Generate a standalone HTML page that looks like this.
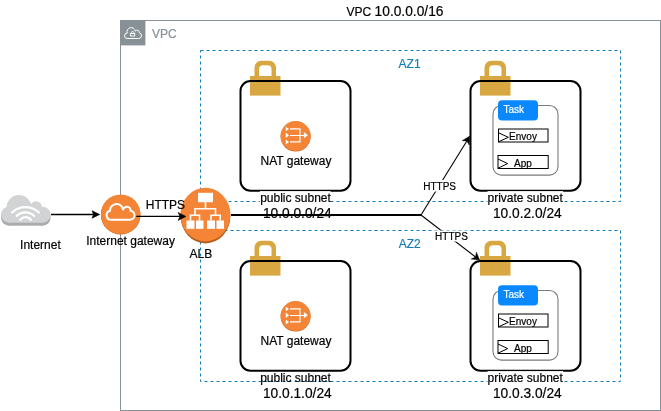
<!DOCTYPE html>
<html><head><meta charset="utf-8">
<style>
html,body{margin:0;padding:0;background:#fff;}
body{width:661px;height:411px;overflow:hidden;}
svg{display:block;will-change:transform;}
text{font-family:"Liberation Sans",sans-serif;}
</style></head>
<body>
<svg width="661" height="411" viewBox="0 0 661 411">

<rect x="120.5" y="20.5" width="540" height="390" fill="none" stroke="#879196" stroke-width="1"/>
<rect x="120" y="20" width="25.4" height="25.4" fill="#879196"/>
<path d="M127.20 38.50 A2.70 2.70 0 1 1 127.21 33.10 A4.20 4.20 0 1 1 135.36 31.20 A2.20 2.20 0 0 1 139.36 32.80 A2.90 2.90 0 0 1 138.60 38.50 Z" fill="none" stroke="#fff" stroke-width="1"/>
<rect x="130.6" y="33.5" width="4.1" height="2.5" fill="none" stroke="#fff" stroke-width="0.9"/>
<path d="M131.5 33.5 V32.6 A1.15 1.15 0 0 1 133.8 32.6 V33.5" fill="none" stroke="#fff" stroke-width="0.9"/>
<text x="152" y="37.8" font-size="12" fill="#879196" stroke="#879196" stroke-width="0.2">VPC</text>
<text x="346.6" y="15.7" fill="#000" stroke="#000" stroke-width="0.2"><tspan font-size="12">VPC </tspan><tspan font-size="13.75">10.0.0.0/16</tspan></text>
<rect x="200.5" y="50.5" width="420" height="151" fill="none" stroke="#147EBA" stroke-width="1" stroke-dasharray="3 3"/>
<text x="409.6" y="67.7" font-size="12" fill="#147EBA" stroke="#147EBA" stroke-width="0.2" text-anchor="middle">AZ1</text>
<rect x="200.5" y="230.5" width="420" height="151" fill="none" stroke="#147EBA" stroke-width="1" stroke-dasharray="3 3"/>
<text x="409.8" y="247.8" font-size="12" fill="#147EBA" stroke="#147EBA" stroke-width="0.2" text-anchor="middle">AZ2</text>
<path transform="translate(250 60)" d="M4.5 16 V7.5 A6.7 6.7 0 0 1 11.2 0.8 H19.3 A6.7 6.7 0 0 1 26 7.5 V16 H21.5 V9.3 A4 4 0 0 0 17.5 5.3 H13.1 A4 4 0 0 0 9.1 9.3 V16 Z" fill="#D9A741"/><rect x="250" y="76" width="30.5" height="19.6" fill="#D9A741"/>
<path transform="translate(480 60)" d="M4.5 16 V7.5 A6.7 6.7 0 0 1 11.2 0.8 H19.3 A6.7 6.7 0 0 1 26 7.5 V16 H21.5 V9.3 A4 4 0 0 0 17.5 5.3 H13.1 A4 4 0 0 0 9.1 9.3 V16 Z" fill="#D9A741"/><rect x="480" y="76" width="30.5" height="19.6" fill="#D9A741"/>
<path transform="translate(250 240)" d="M4.5 16 V7.5 A6.7 6.7 0 0 1 11.2 0.8 H19.3 A6.7 6.7 0 0 1 26 7.5 V16 H21.5 V9.3 A4 4 0 0 0 17.5 5.3 H13.1 A4 4 0 0 0 9.1 9.3 V16 Z" fill="#D9A741"/><rect x="250" y="256" width="30.5" height="19.6" fill="#D9A741"/>
<path transform="translate(480 240)" d="M4.5 16 V7.5 A6.7 6.7 0 0 1 11.2 0.8 H19.3 A6.7 6.7 0 0 1 26 7.5 V16 H21.5 V9.3 A4 4 0 0 0 17.5 5.3 H13.1 A4 4 0 0 0 9.1 9.3 V16 Z" fill="#D9A741"/><rect x="480" y="256" width="30.5" height="19.6" fill="#D9A741"/>
<rect x="240.5" y="81" width="110" height="109.7" rx="10" ry="10" fill="none" stroke="#000" stroke-width="2"/>
<rect x="470.5" y="81" width="110" height="109.7" rx="10" ry="10" fill="none" stroke="#000" stroke-width="2"/>
<rect x="240.5" y="261" width="110" height="109.7" rx="10" ry="10" fill="none" stroke="#000" stroke-width="2"/>
<rect x="470.5" y="261" width="110" height="109.7" rx="10" ry="10" fill="none" stroke="#000" stroke-width="2"/>
<g transform="translate(0 0)">
<circle cx="295.6" cy="136.6" r="15" fill="#C8682A"/>
<circle cx="295.6" cy="136" r="15" fill="#F58536"/>
<path d="M285.8 126.8 L289 129 L285.8 131.3 Z M285.8 132.6 L289 135.3 L285.8 138 Z M285.8 139.6 L289 142 L285.8 144.4 Z" fill="#fff"/>
<path d="M290 128.8 H300 V141.9 H290 M290 135.5 H304.5" fill="none" stroke="#fff" stroke-width="1.2"/>
<path d="M303.9 132.1 L307.9 135.3 L303.9 138.3 Z" fill="#fff"/>
</g>
<text x="296" y="165" font-size="12" fill="#000" stroke="#000" stroke-width="0.2" text-anchor="middle">NAT gateway</text>
<g transform="translate(0 180)">
<circle cx="295.6" cy="136.6" r="15" fill="#C8682A"/>
<circle cx="295.6" cy="136" r="15" fill="#F58536"/>
<path d="M285.8 126.8 L289 129 L285.8 131.3 Z M285.8 132.6 L289 135.3 L285.8 138 Z M285.8 139.6 L289 142 L285.8 144.4 Z" fill="#fff"/>
<path d="M290 128.8 H300 V141.9 H290 M290 135.5 H304.5" fill="none" stroke="#fff" stroke-width="1.2"/>
<path d="M303.9 132.1 L307.9 135.3 L303.9 138.3 Z" fill="#fff"/>
</g>
<text x="296" y="345" font-size="12" fill="#000" stroke="#000" stroke-width="0.2" text-anchor="middle">NAT gateway</text>
<g transform="translate(0 0)">
<rect x="493" y="105.5" width="65" height="69.6" rx="8.5" ry="8.5" fill="none" stroke="#7a7a7a" stroke-width="1.1"/>
<rect x="498" y="100.2" width="40" height="20.3" rx="4" ry="4" fill="#0A89FF"/>
<text x="513.8" y="113.1" font-size="10" fill="#fff" stroke="#fff" stroke-width="0.2" text-anchor="middle">Task</text>
<rect x="498.5" y="129" width="49.5" height="13" fill="#fff" stroke="#000" stroke-width="1"/>
<path d="M498.5 132.8 L508.4 137.3 L498.5 141.8" fill="none" stroke="#000" stroke-width="1"/>
<text x="523" y="140" font-size="10" fill="#000" stroke="#000" stroke-width="0.2" text-anchor="middle">Envoy</text>
<rect x="498" y="155.5" width="50.2" height="13" fill="#fff" stroke="#000" stroke-width="1"/>
<path d="M498 159 L507.7 163.6 L498 168.2" fill="none" stroke="#000" stroke-width="1"/>
<text x="523" y="167" font-size="10" fill="#000" stroke="#000" stroke-width="0.2" text-anchor="middle">App</text>
</g>
<g transform="translate(0 185)">
<rect x="493" y="105.5" width="65" height="69.6" rx="8.5" ry="8.5" fill="none" stroke="#7a7a7a" stroke-width="1.1"/>
<rect x="498" y="100.2" width="40" height="20.3" rx="4" ry="4" fill="#0A89FF"/>
<text x="513.8" y="113.1" font-size="10" fill="#fff" stroke="#fff" stroke-width="0.2" text-anchor="middle">Task</text>
<rect x="498.5" y="129" width="49.5" height="13" fill="#fff" stroke="#000" stroke-width="1"/>
<path d="M498.5 132.8 L508.4 137.3 L498.5 141.8" fill="none" stroke="#000" stroke-width="1"/>
<text x="523" y="140" font-size="10" fill="#000" stroke="#000" stroke-width="0.2" text-anchor="middle">Envoy</text>
<rect x="498" y="155.5" width="50.2" height="13" fill="#fff" stroke="#000" stroke-width="1"/>
<path d="M498 159 L507.7 163.6 L498 168.2" fill="none" stroke="#000" stroke-width="1"/>
<text x="523" y="167" font-size="10" fill="#000" stroke="#000" stroke-width="0.2" text-anchor="middle">App</text>
</g>
<rect x="259.8" y="191.1" width="70.8" height="12" fill="#fff"/>
<text x="295.5" y="201.9" font-size="12" fill="#000" stroke="#000" stroke-width="0.2" text-anchor="middle">public subnet</text>
<rect x="487.5" y="191.1" width="75.6" height="12" fill="#fff"/>
<text x="525.2" y="202" font-size="12" fill="#000" stroke="#000" stroke-width="0.2" text-anchor="middle">private subnet</text>
<text x="295.5" y="381.9" font-size="12" fill="#000" stroke="#000" stroke-width="0.2" text-anchor="middle">public subnet</text>
<rect x="487.5" y="371.1" width="75.6" height="12" fill="#fff"/>
<text x="525.2" y="382" font-size="12" fill="#000" stroke="#000" stroke-width="0.2" text-anchor="middle">private subnet</text>
<text x="297.3" y="217.7" font-size="13.75" fill="#000" stroke="#000" stroke-width="0.2" text-anchor="middle">10.0.0.0/24</text>
<text x="527.3" y="217.9" font-size="13.75" fill="#000" stroke="#000" stroke-width="0.2" text-anchor="middle">10.0.2.0/24</text>
<text x="297.3" y="397.6" font-size="13.75" fill="#000" stroke="#000" stroke-width="0.2" text-anchor="middle">10.0.1.0/24</text>
<text x="527.3" y="397.6" font-size="13.75" fill="#000" stroke="#000" stroke-width="0.2" text-anchor="middle">10.0.3.0/24</text>
<g fill="#ABACAD"><circle cx="9" cy="217.7" r="8"/><circle cx="19" cy="210.6" r="12.5"/><circle cx="36" cy="210.2" r="6"/><circle cx="42.6" cy="217.7" r="8"/><rect x="9" y="210" width="33.6" height="15.7"/></g><g fill="#D2D3D4"><circle cx="9" cy="214.7" r="8"/><circle cx="19" cy="207.6" r="12.5"/><circle cx="36" cy="207.2" r="6"/><circle cx="42.6" cy="214.7" r="8"/><rect x="9" y="207" width="33.6" height="15.7"/></g><g fill="none" stroke="#fff" stroke-width="2.3" stroke-linecap="round"><path d="M12.1 212.5 A19.2 19.2 0 0 1 38.8 212.5"/><path d="M16.7 215.9 A12.6 12.6 0 0 1 34.1 215.9"/><path d="M20.3 219.7 A6.9 6.9 0 0 1 30.9 219.7"/></g>
<text x="40.4" y="249" font-size="12" fill="#000" stroke="#000" stroke-width="0.2" text-anchor="middle">Internet</text>
<circle cx="120.65" cy="214.8" r="19.8" fill="#C8682A"/>
<circle cx="120.65" cy="214.2" r="19.75" fill="#F58536"/>
<path d="M111.20 219.80 A4.60 4.60 0 0 1 110.03 210.75 A6.50 6.50 0 1 1 123.14 210.29 A3.60 3.60 0 1 1 130.59 210.65 A4.60 4.60 0 0 1 129.90 219.80 Z" fill="none" stroke="#fff" stroke-width="2"/>
<text x="130.6" y="245.4" font-size="12" fill="#000" stroke="#000" stroke-width="0.2" text-anchor="middle">Internet gateway</text>
<ellipse cx="205.5" cy="216.2" rx="24.9" ry="27.2" fill="#B5601F"/>
<ellipse cx="205.4" cy="214.6" rx="25" ry="26.8" fill="#F58536"/>
<g fill="#fff"><rect x="198" y="192.8" width="15" height="9.4"/><rect x="186.5" y="220.5" width="8" height="8.3"/><rect x="196" y="220.5" width="7.5" height="8.3"/><rect x="207" y="220.5" width="8" height="8.3"/><rect x="216.5" y="220.5" width="7.5" height="8.3"/></g>
<path d="M205.5 202 V208.8 M195 215 V208.8 H215.5 V215 M190.5 220.5 V215.3 H199.5 V220.5 M211 220.5 V215.3 H220.2 V220.5" fill="none" stroke="#fff" stroke-width="1.6"/>
<text x="200.8" y="258" font-size="12" fill="#000" stroke="#000" stroke-width="0.2" text-anchor="middle">ALB</text>
<path d="M51 214.5 H94" stroke="#000" stroke-width="1.3" fill="none"/>
<path d="M99.7 214.5 L92 210.7 L93.6 214.5 L92 218.2 Z" fill="#000" stroke="#000" stroke-width="0.6"/>
<path d="M136.3 216.4 H180" stroke="#000" stroke-width="1.2" fill="none"/>
<path d="M186 216.4 L178 212.4 L180 216.4 L178 220.4 Z" fill="#000" stroke="#000" stroke-width="0.5"/>
<text x="165.4" y="208.6" font-size="12" fill="#000" stroke="#000" stroke-width="0.2" text-anchor="middle">HTTPS</text>
<path d="M231 215 H421" stroke="#000" stroke-width="2" fill="none"/>
<path d="M421 215 L466.85 140.93" stroke="#000" stroke-width="1.1" fill="none"/><path d="M469.9 136 L469.18 144.96 L466.85 140.93 L462.20 140.64 Z" fill="#000" stroke="#000" stroke-width="0.5" stroke-linejoin="miter"/>
<path d="M421 215 L475.56 256.99" stroke="#000" stroke-width="1.1" fill="none"/><path d="M479.6 260.1 L471.19 259.06 L475.56 256.99 L476.44 252.24 Z" fill="#000" stroke="#000" stroke-width="0.5" stroke-linejoin="miter"/>
<rect x="422.5" y="180" width="35" height="11.5" fill="#fff"/>
<text x="439.6" y="189.6" font-size="10" fill="#000" stroke="#000" stroke-width="0.2" text-anchor="middle">HTTPS</text>
<rect x="434.5" y="230.5" width="35" height="11" fill="#fff"/>
<text x="451.5" y="239.7" font-size="10" fill="#000" stroke="#000" stroke-width="0.2" text-anchor="middle">HTTPS</text>
</svg>
</body></html>
